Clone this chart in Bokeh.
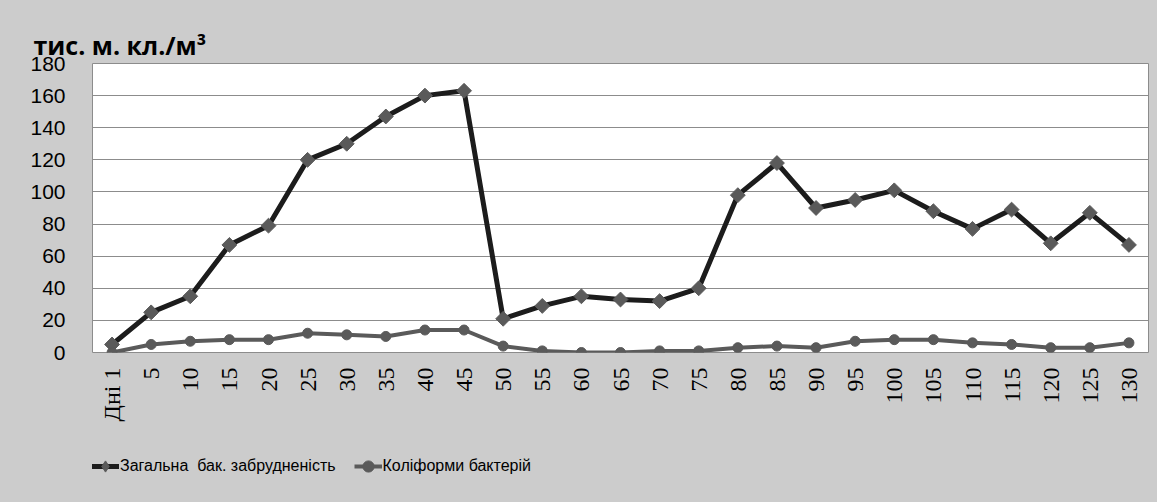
import math
from bokeh.plotting import figure
from bokeh.layouts import column
from bokeh.models import FactorRange, Range1d, SingleIntervalTicker, Legend, LegendItem, ColumnDataSource
from bokeh.embed import file_html
from bokeh.resources import INLINE

# ---- data ----
days = ["Дні 1", "5", "10", "15", "20", "25", "30", "35", "40", "45", "50", "55", "60", "65",
        "70", "75", "80", "85", "90", "95", "100", "105", "110", "115", "120", "125", "130"]
total_bac = [5, 25, 35, 67, 79, 120, 130, 147, 160, 163, 21, 29, 35, 33,
             32, 40, 98, 118, 90, 95, 101, 88, 77, 89, 68, 87, 67]
coliforms = [0, 5, 7, 8, 8, 12, 11, 10, 14, 14, 4, 1, 0, 0,
             1, 1, 3, 4, 3, 7, 8, 8, 6, 5, 3, 3, 6]
series_names = ["Загальна  бак. забрудненість", "Коліформи бактерій"]
y_title = "тис. м. кл./м³"

BG = "#cccccc"
DARK = "#1c1c1c"
GREY = "#5a5a5a"

src = ColumnDataSource(dict(day=days, total=total_bac, coli=coliforms))


def add_series(fig, diamond_marker, diamond_size, diamond_angle):
    a = fig.line("day", "total", source=src, line_color=DARK, line_width=5)
    b = fig.scatter("day", "total", source=src, marker=diamond_marker, size=diamond_size,
                    angle=diamond_angle, fill_color=GREY, line_color=GREY)
    c = fig.line("day", "coli", source=src, line_color=GREY, line_width=4)
    d = fig.scatter("day", "coli", source=src, marker="circle", size=10,
                    fill_color=GREY, line_color=GREY)
    return a, b, c, d


p = figure(width=1157, height=440, output_backend="svg", toolbar_location=None,
           x_range=FactorRange(factors=days, range_padding=0),
           y_range=Range1d(0, 180),
           min_border_left=92, min_border_right=9, min_border_top=63, min_border_bottom=88)

p.background_fill_color = "white"
p.border_fill_color = BG
p.outline_line_color = "#8c8c8c"
p.outline_line_width = 1

# title
p.title.text = y_title
p.title.text_font = "Open Sans"
p.title.text_font_style = "bold"
p.title.text_font_size = "25px"
p.title.text_color = "black"
p.title.align = "left"
p.title.offset = -59
p.title.standoff = 3

# grid
p.xgrid.grid_line_color = None
p.ygrid.grid_line_color = "#8c8c8c"
p.ygrid.grid_line_width = 1

# y axis
p.yaxis.ticker = SingleIntervalTicker(interval=20)
p.yaxis.axis_line_color = None
p.yaxis.major_tick_line_color = None
p.yaxis.minor_tick_line_color = None
p.yaxis.major_tick_out = 0
p.yaxis.major_tick_in = 0
p.yaxis.major_label_standoff = 23
p.yaxis.major_label_text_font = "Liberation Sans"
p.yaxis.major_label_text_font_size = "21px"
p.yaxis.major_label_text_color = "black"

# x axis
p.xaxis.axis_line_color = None
p.xaxis.major_tick_line_color = None
p.xaxis.minor_tick_line_color = None
p.xaxis.major_tick_out = 0
p.xaxis.major_tick_in = 0
p.xaxis.major_label_orientation = math.pi / 2
p.xaxis.major_label_standoff = 15
p.xaxis.major_label_text_font = "Liberation Serif"
p.xaxis.major_label_text_font_size = "24px"
p.xaxis.major_label_text_color = "black"

add_series(p, "square", 10.5, math.pi / 4)

# ---- legend strip: same series, out of its visible y window, carries the legend ----
pl = figure(width=1157, height=62, output_backend="svg", toolbar_location=None,
            x_range=FactorRange(factors=days, range_padding=0), y_range=Range1d(1000, 1001),
            x_axis_location=None, y_axis_location=None,
            min_border_left=0, min_border_right=0, min_border_top=0, min_border_bottom=0)
pl.background_fill_color = BG
pl.border_fill_color = BG
pl.outline_line_color = None
pl.grid.grid_line_color = None
g1l, g1m, g2l, g2m = add_series(pl, "diamond", 14, 0)

legend = Legend(items=[LegendItem(label=series_names[0], renderers=[g1l, g1m]),
                       LegendItem(label=series_names[1], renderers=[g2l, g2m])],
                orientation="horizontal", location=(-1, 21),
                background_fill_alpha=0, border_line_color=None,
                padding=0, margin=0, spacing=18, glyph_width=28, glyph_height=30,
                label_standoff=1, label_text_font="Liberation Sans",
                label_text_font_size="16px", label_text_color="black")
pl.add_layout(legend, "center")

layout = column(p, pl, spacing=0, styles={"background-color": BG})
open("out.html", "w").write(file_html(layout, INLINE))
